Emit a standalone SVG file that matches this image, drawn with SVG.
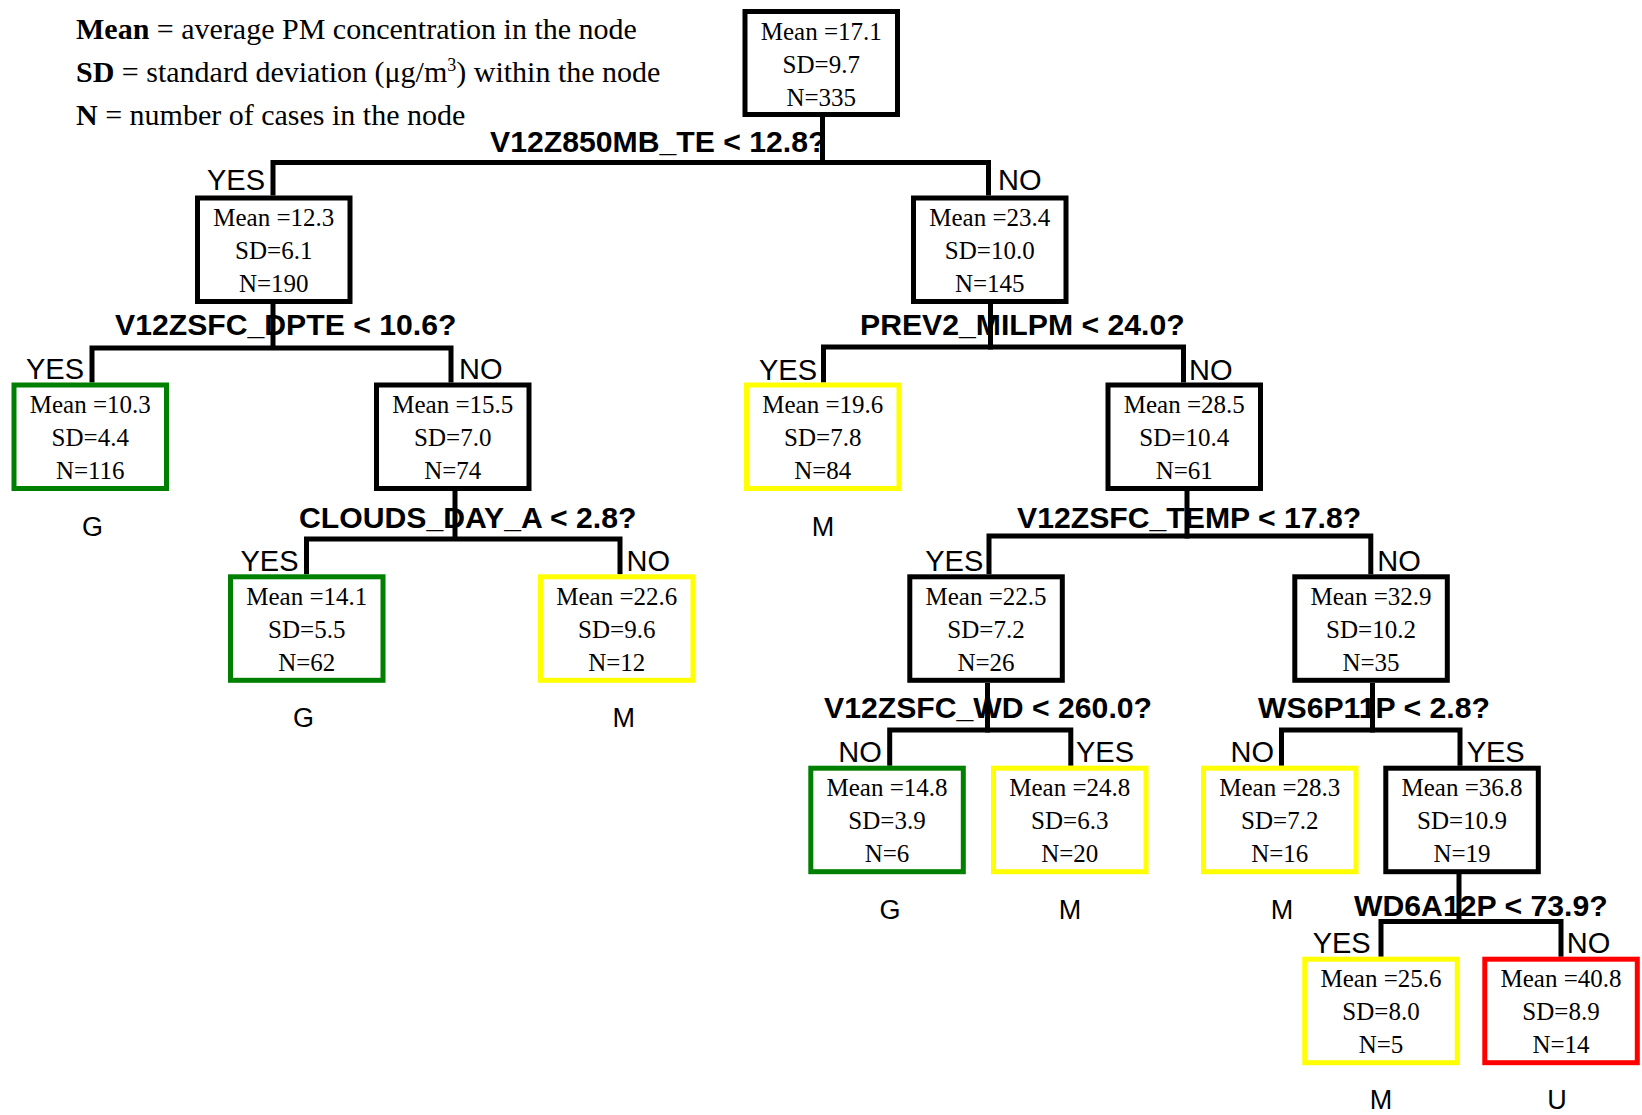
<svg xmlns="http://www.w3.org/2000/svg" width="1642" height="1115" viewBox="0 0 1642 1115">
<style>
.bg{fill:#ffffff}
.box{fill:#ffffff;stroke-width:5}
.k{stroke:#000000}
.g{stroke:#008000}
.y{stroke:#ffff00}
.r{stroke:#ff0000}
.nt{font-family:"Liberation Serif","Times New Roman",serif;font-size:25px;fill:#000;text-anchor:middle}
.lg{font-family:"Liberation Serif","Times New Roman",serif;font-size:30px;fill:#000}
.q{font-family:"Liberation Sans",Arial,sans-serif;font-size:30.2px;font-weight:bold;fill:#000}
.yn{font-family:"Liberation Sans",Arial,sans-serif;font-size:29px;fill:#000}
.e{text-anchor:end}
.cl{font-family:"Liberation Sans",Arial,sans-serif;font-size:27px;fill:#000;text-anchor:middle}
.c{fill:none;stroke:#000;stroke-width:5;stroke-linejoin:miter;stroke-linecap:butt}
</style>
<rect class="bg" x="0" y="0" width="1642" height="1115"/>
<g id="legend">
<text class="lg" x="76" y="39"><tspan font-weight="bold">Mean</tspan> = average PM concentration in the node</text>
<text class="lg" x="76" y="82"><tspan font-weight="bold">SD</tspan> = standard deviation (μg/m<tspan dy="-11" font-size="18">3</tspan><tspan dy="11">) within the node</tspan></text>
<text class="lg" x="76" y="125"><tspan font-weight="bold">N</tspan> = number of cases in the node</text>
</g>
<g id="labels">
<text class="q" x="490" y="152" font-size="29.4">V12Z850MB_TE &lt; 12.8?</text>
<text class="q" x="115" y="335" font-size="29.9">V12ZSFC_DPTE &lt; 10.6?</text>
<text class="q" x="299" y="527.7">CLOUDS_DAY_A &lt; 2.8?</text>
<text class="q" x="860" y="335">PREV2_MILPM &lt; 24.0?</text>
<text class="q" x="1017" y="528">V12ZSFC_TEMP &lt; 17.8?</text>
<text class="q" x="824" y="718.3">V12ZSFC_WD &lt; 260.0?</text>
<text class="q" x="1258" y="718.3">WS6P11P &lt; 2.8?</text>
<text class="q" x="1354" y="916">WD6A12P &lt; 73.9?</text>
<text class="yn e" x="265" y="190">YES</text>
<text class="yn" x="998" y="190">NO</text>
<text class="yn e" x="84" y="379">YES</text>
<text class="yn" x="459" y="379">NO</text>
<text class="yn e" x="298.5" y="571">YES</text>
<text class="yn" x="626.5" y="571">NO</text>
<text class="yn e" x="817" y="380">YES</text>
<text class="yn" x="1189" y="380">NO</text>
<text class="yn e" x="983.3" y="571">YES</text>
<text class="yn" x="1377.3" y="571">NO</text>
<text class="yn e" x="881.7" y="762">NO</text>
<text class="yn" x="1076" y="762">YES</text>
<text class="yn e" x="1274" y="762">NO</text>
<text class="yn" x="1466.7" y="762">YES</text>
<text class="yn e" x="1370.7" y="953">YES</text>
<text class="yn" x="1566.7" y="953">NO</text>
<text class="cl" x="92.6" y="536">G</text>
<text class="cl" x="303.6" y="727">G</text>
<text class="cl" x="623.7" y="727">M</text>
<text class="cl" x="823" y="536">M</text>
<text class="cl" x="890" y="919">G</text>
<text class="cl" x="1070" y="919">M</text>
<text class="cl" x="1282" y="919">M</text>
<text class="cl" x="1381" y="1109">M</text>
<text class="cl" x="1557" y="1109">U</text>
</g>
<g id="connectors">
<path class="c" d="M822.5,117 V165"/>
<path class="c" d="M273,195.5 V162.5 H988.5 V195.5"/>
<path class="c" d="M273,304 V350"/>
<path class="c" d="M92,382.5 V348 H451 V382.5"/>
<path class="c" d="M455,491 V541"/>
<path class="c" d="M306.5,574.3 V539 H620 V574.3"/>
<path class="c" d="M990.5,304 V349.5"/>
<path class="c" d="M823.5,382.5 V347 H1183.5 V382.5"/>
<path class="c" d="M1187,491 V538.5"/>
<path class="c" d="M989,574.3 V536 H1370.8 V574.3"/>
<path class="c" d="M987.5,683 V732.5"/>
<path class="c" d="M889.7,765.7 V730 H1070.8 V765.7"/>
<path class="c" d="M1372.5,683 V732.5"/>
<path class="c" d="M1281.5,765.7 V730 H1460 V765.7"/>
<path class="c" d="M1459,874 V924"/>
<path class="c" d="M1381,956.7 V921.5 H1561 V956.7"/>
</g>
<g id="n0"><rect class="box k" x="745" y="11.5" width="152.5" height="103"/><text class="nt" x="821.25" y="39.5">Mean =17.1</text><text class="nt" x="821.25" y="72.5">SD=9.7</text><text class="nt" x="821.25" y="105.5">N=335</text></g>
<g id="n1"><rect class="box k" x="197.5" y="198" width="152.5" height="103.5"/><text class="nt" x="273.75" y="226">Mean =12.3</text><text class="nt" x="273.75" y="259">SD=6.1</text><text class="nt" x="273.75" y="292">N=190</text></g>
<g id="n2"><rect class="box k" x="913.5" y="198" width="152.5" height="103.5"/><text class="nt" x="989.75" y="226">Mean =23.4</text><text class="nt" x="989.75" y="259">SD=10.0</text><text class="nt" x="989.75" y="292">N=145</text></g>
<g id="n3"><rect class="box g" x="14" y="385" width="152.5" height="103.5"/><text class="nt" x="90.25" y="413">Mean =10.3</text><text class="nt" x="90.25" y="446">SD=4.4</text><text class="nt" x="90.25" y="479">N=116</text></g>
<g id="n4"><rect class="box k" x="376.5" y="385" width="152.5" height="103.5"/><text class="nt" x="452.75" y="413">Mean =15.5</text><text class="nt" x="452.75" y="446">SD=7.0</text><text class="nt" x="452.75" y="479">N=74</text></g>
<g id="n5"><rect class="box y" x="746.5" y="385" width="152.5" height="103.5"/><text class="nt" x="822.75" y="413">Mean =19.6</text><text class="nt" x="822.75" y="446">SD=7.8</text><text class="nt" x="822.75" y="479">N=84</text></g>
<g id="n6"><rect class="box k" x="1108" y="385" width="152.5" height="103.5"/><text class="nt" x="1184.25" y="413">Mean =28.5</text><text class="nt" x="1184.25" y="446">SD=10.4</text><text class="nt" x="1184.25" y="479">N=61</text></g>
<g id="n7"><rect class="box g" x="230.5" y="576.8" width="152.5" height="103.5"/><text class="nt" x="306.75" y="604.8">Mean =14.1</text><text class="nt" x="306.75" y="637.8">SD=5.5</text><text class="nt" x="306.75" y="670.8">N=62</text></g>
<g id="n8"><rect class="box y" x="540.5" y="576.8" width="152.5" height="103.5"/><text class="nt" x="616.75" y="604.8">Mean =22.6</text><text class="nt" x="616.75" y="637.8">SD=9.6</text><text class="nt" x="616.75" y="670.8">N=12</text></g>
<g id="n9"><rect class="box k" x="909.8" y="576.8" width="152.5" height="103.5"/><text class="nt" x="986" y="604.8">Mean =22.5</text><text class="nt" x="986" y="637.8">SD=7.2</text><text class="nt" x="986" y="670.8">N=26</text></g>
<g id="n10"><rect class="box k" x="1294.8" y="576.8" width="152.5" height="103.5"/><text class="nt" x="1371" y="604.8">Mean =32.9</text><text class="nt" x="1371" y="637.8">SD=10.2</text><text class="nt" x="1371" y="670.8">N=35</text></g>
<g id="n11"><rect class="box g" x="810.8" y="768.2" width="152.5" height="103.5"/><text class="nt" x="887" y="796.2">Mean =14.8</text><text class="nt" x="887" y="829.2">SD=3.9</text><text class="nt" x="887" y="862.2">N=6</text></g>
<g id="n12"><rect class="box y" x="993.5" y="768.2" width="152.5" height="103.5"/><text class="nt" x="1069.75" y="796.2">Mean =24.8</text><text class="nt" x="1069.75" y="829.2">SD=6.3</text><text class="nt" x="1069.75" y="862.2">N=20</text></g>
<g id="n13"><rect class="box y" x="1203.5" y="768.2" width="152.5" height="103.5"/><text class="nt" x="1279.75" y="796.2">Mean =28.3</text><text class="nt" x="1279.75" y="829.2">SD=7.2</text><text class="nt" x="1279.75" y="862.2">N=16</text></g>
<g id="n14"><rect class="box k" x="1385.8" y="768.2" width="152.5" height="103.5"/><text class="nt" x="1462" y="796.2">Mean =36.8</text><text class="nt" x="1462" y="829.2">SD=10.9</text><text class="nt" x="1462" y="862.2">N=19</text></g>
<g id="n15"><rect class="box y" x="1304.8" y="959.2" width="152.5" height="103.5"/><text class="nt" x="1381" y="987.2">Mean =25.6</text><text class="nt" x="1381" y="1020.2">SD=8.0</text><text class="nt" x="1381" y="1053.2">N=5</text></g>
<g id="n16"><rect class="box r" x="1484.8" y="959.2" width="152.5" height="103.5"/><text class="nt" x="1561" y="987.2">Mean =40.8</text><text class="nt" x="1561" y="1020.2">SD=8.9</text><text class="nt" x="1561" y="1053.2">N=14</text></g>
</svg>
